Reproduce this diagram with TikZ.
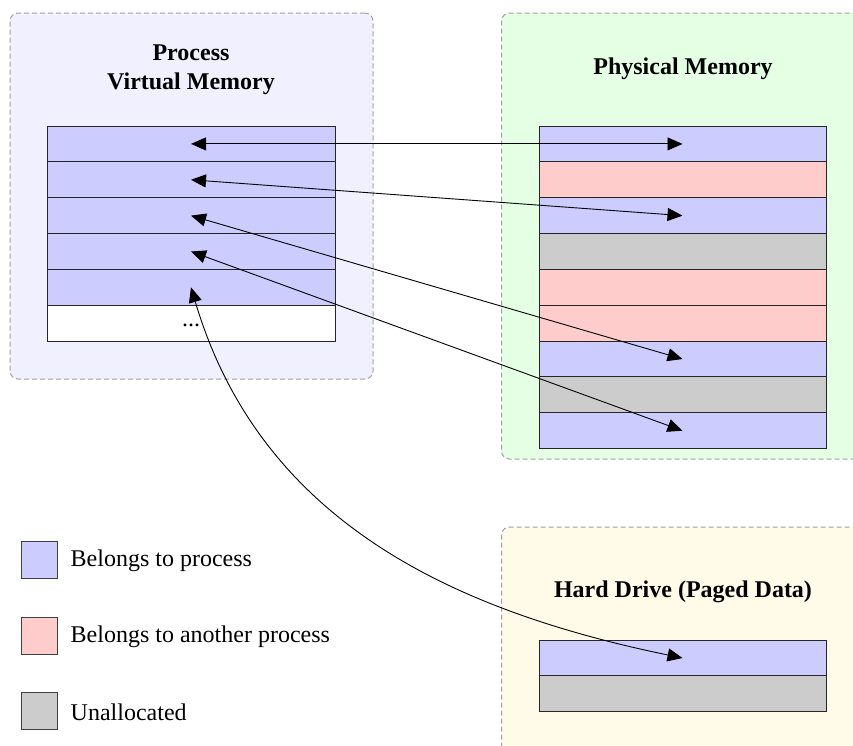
\documentclass[tikz,border=0pt]{standalone}
\usepackage{fontspec}
\setmainfont{Liberation Serif}
\usetikzlibrary{arrows.meta}
\definecolor{vbg}{HTML}{F0F0FF}
\definecolor{pbg}{HTML}{E5FFE5}
\definecolor{hbg}{HTML}{FFFBE8}
\definecolor{cblue}{HTML}{CCCCFF}
\definecolor{cred}{HTML}{FFCCCC}
\definecolor{cgray}{HTML}{CCCCCC}
\definecolor{dashgray}{HTML}{A0A0A0}
\tikzset{
  panel/.style={draw=dashgray, line width=1pt, dash pattern=on 5pt off 3pt, rounded corners=8pt, inner sep=0pt},
  cell/.style={draw=black!85, line width=1pt, minimum height=35.85pt, inner sep=0pt},
  lcell/.style={cell, minimum width=288pt},
  rcell/.style={cell, minimum width=287pt},
  legbox/.style={draw=black!75, line width=1pt, minimum width=36pt, minimum height=37pt, inner sep=0pt},
  legtext/.style={anchor=west, inner sep=0pt},
  title/.style={font=\fontsize{24}{29}\selectfont\bfseries, align=center, inner sep=0pt},
  link/.style={line width=0.9pt, {Triangle[length=15pt,width=13pt]}-{Triangle[length=15pt,width=13pt]}}
}
\begin{document}
\begin{tikzpicture}[x=1pt, y=-1pt, font=\fontsize{24}{29}\selectfont]
\useasboundingbox (0,0) rectangle (853,745);
\clip (0,0) rectangle (853,745);
% panels
\node[panel, fill=vbg, minimum width=363pt, minimum height=366pt] (vpanel) at (191.5,196) {};
\node[panel, fill=pbg, minimum width=380pt, minimum height=446pt] (ppanel) at (691.5,236) {};
\node[panel, fill=hbg, minimum width=380pt, minimum height=240pt] (hpanel) at (691.5,647) {};
% titles
\node[title] (vtitle) at (191,70) {Process\\Virtual Memory};
\node[title] (ptitle) at (683,69) {Physical Memory};
\node[title] (htitle) at (683,592) {Hard Drive (Paged Data)};
% virtual memory cells
\foreach \i in {1,...,5}{
  \node[lcell, fill=cblue] (v\i) at (191,{126+35.85*(\i-0.5)}) {};
}
\node[lcell, fill=white] (v6) at (191,{126+35.85*5.5}) {};
\node[inner sep=0pt] (vdots) at (191,325) {...};
% physical memory cells
\foreach \i/\c in {1/cblue,2/cred,3/cblue,4/cgray,5/cred,6/cred,7/cblue,8/cgray,9/cblue}{
  \node[rcell, fill=\c] (p\i) at (682.5,{126+35.85*(\i-0.5)}) {};
}
% hard drive cells
\node[rcell, fill=cblue] (h1) at (682.5,658) {};
\node[rcell, fill=cgray] (h2) at (682.5,{658+35.85}) {};
% legend
\node[legbox, fill=cblue] (lg1) at (39,560) {};
\node[legbox, fill=cred] (lg2) at (39,636) {};
\node[legbox, fill=cgray] (lg3) at (39,711) {};
\node[legtext] (lt1) at ([xshift=13pt,yshift=-1pt]lg1.east) {Belongs to process};
\node[legtext] (lt2) at ([xshift=13pt,yshift=-1pt]lg2.east) {Belongs to another process};
\node[legtext] (lt3) at ([xshift=13pt,yshift=-1pt]lg3.east) {Unallocated};
% connectors
\draw[link] (v1.center) -- (p1.center);
\draw[link] (v2.center) -- (p3.center);
\draw[link] (v3.center) -- (p7.center);
\draw[link] (v4.center) -- (p9.center);
\draw[link] (v5.center) .. controls (260,520) and (450,610) .. (h1.center);
\end{tikzpicture}
\end{document}
